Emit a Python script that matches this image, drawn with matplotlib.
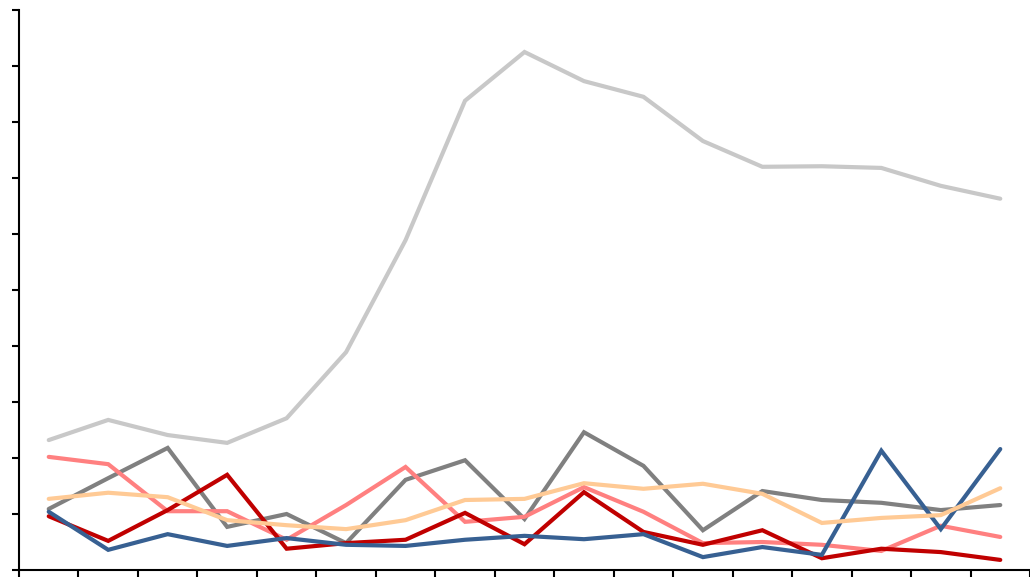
import matplotlib
matplotlib.use("Agg")
import matplotlib.pyplot as plt

# 17 categories, no labels shown
categories = list(range(17))

light_gray = [2.32, 2.68, 2.41, 2.27, 2.71, 3.89, 5.89, 8.38, 9.25, 8.73, 8.45, 7.66, 7.20, 7.21, 7.18, 6.86, 6.63]
gray = [1.09, 1.64, 2.18, 0.77, 1.00, 0.48, 1.61, 1.96, 0.91, 2.46, 1.86, 0.71, 1.41, 1.25, 1.20, 1.07, 1.16]
pink = [2.02, 1.89, 1.05, 1.05, 0.54, 1.16, 1.84, 0.86, 0.95, 1.48, 1.04, 0.48, 0.50, 0.45, 0.34, 0.79, 0.59]
dark_red = [0.96, 0.52, 1.07, 1.70, 0.38, 0.48, 0.54, 1.02, 0.46, 1.39, 0.68, 0.45, 0.71, 0.21, 0.38, 0.32, 0.18]
blue = [1.04, 0.36, 0.64, 0.43, 0.57, 0.45, 0.43, 0.54, 0.61, 0.55, 0.64, 0.23, 0.41, 0.27, 2.13, 0.73, 2.16]
peach = [1.27, 1.38, 1.30, 0.89, 0.80, 0.73, 0.89, 1.25, 1.27, 1.55, 1.45, 1.54, 1.36, 0.84, 0.93, 0.98, 1.46]

series = [
    (light_gray, '#C8C8C8'),
    (gray, '#808080'),
    (pink, '#FF8080'),
    (dark_red, '#C00000'),
    (blue, '#376092'),
    (peach, '#FFCA95'),
]

fig = plt.figure(figsize=(10.3, 5.77), dpi=100)
ax = fig.add_axes([19 / 1030, 7 / 577, 1 - 19 / 1030, 560 / 577])

for values, color in series:
    ax.plot(categories, values, color=color, linewidth=3.0, solid_capstyle='round', solid_joinstyle='miter')

ax.set_ylim(0, 10)
ax.set_xlim(-0.5, 16.33)
ax.set_yticks(range(0, 11))
ax.set_xticks([k - 0.5 for k in range(18)])
ax.set_xticklabels([])
ax.set_yticklabels([])
ax.tick_params(axis='both', direction='out', length=5, width=1.5, color='black')
for side in ['top', 'right']:
    ax.spines[side].set_visible(False)
for side in ['left', 'bottom']:
    ax.spines[side].set_linewidth(1.5)

fig.savefig('out.png', dpi=100)
